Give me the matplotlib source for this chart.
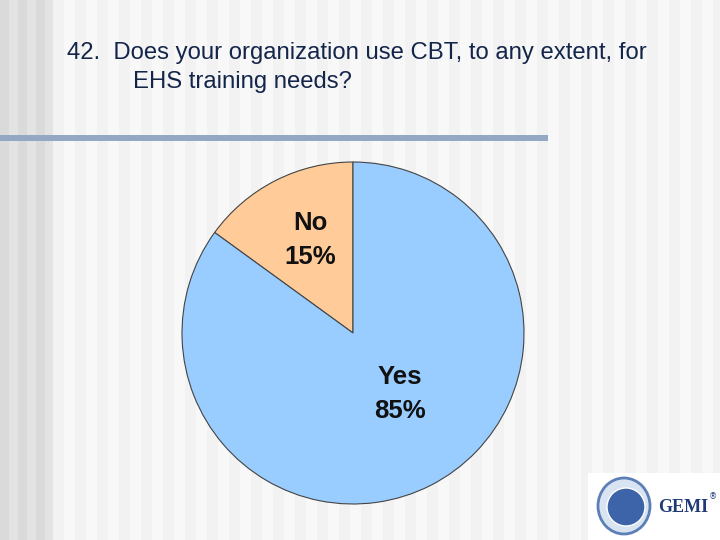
import matplotlib
matplotlib.use("Agg")
import matplotlib.pyplot as plt
from matplotlib.patches import Rectangle, Circle, Ellipse

categories = ["Yes", "No"]
values = [85, 15]
colors = ["#99ccff", "#ffcc99"]
title_line1 = "42.  Does your organization use CBT, to any extent, for"
title_line2 = "EHS training needs?"

W, H = 720, 540
fig = plt.figure(figsize=(7.2, 5.4), dpi=100)
fig.patch.set_facecolor("#f7f7f7")

bg = fig.add_axes([0, 0, 1, 1])
bg.set_xlim(0, W)
bg.set_ylim(H, 0)
bg.axis("off")
bg.set_zorder(0)

# striped background
x = 0
i = 0
while x < 53:
    c = "#dadada" if i % 2 == 0 else "#e3e3e3"
    bg.add_patch(Rectangle((x, 0), 9, H, color=c, lw=0))
    x += 9
    i += 1
x = 53
i = 0
while x < W:
    c = "#f2f2f2" if i % 2 == 0 else "#f8f8f8"
    bg.add_patch(Rectangle((x, 0), 11, H, color=c, lw=0))
    x += 11
    i += 1

# horizontal rule
bg.add_patch(Rectangle((0, 135), 548, 6, color="#93a9c3", lw=0))

# title
tc = "#14254a"
bg.text(67, 53, title_line1, fontsize=17.2, color=tc, family="Liberation Sans",
        va="center", ha="left")
bg.text(133, 82, title_line2, fontsize=17.2, color=tc, family="Liberation Sans",
        va="center", ha="left")

# logo
bg.add_patch(Rectangle((588, 473), 132, 67, color="white", lw=0))
bg.add_patch(Ellipse((624, 506), 52, 56, facecolor="#d9e4f2", edgecolor="#5c7fb8", lw=2))
bg.add_patch(Circle((626, 507), 19, facecolor="#3d64a8", edgecolor="white", lw=1))
bg.text(658, 507, "GEMI", fontsize=13, fontweight="bold", color="#1f3a75",
        family="Liberation Serif", va="center", ha="left")
bg.text(709, 497, "®", fontsize=6, color="#1f3a75", va="center", ha="left")

# pie
cx, cy, r = 353, 333, 171
ax = fig.add_axes([(cx - r) / W, 1 - (cy + r) / H, 2 * r / W, 2 * r / H])
ax.set_zorder(1)
ax.patch.set_alpha(0)
ax.pie(values[::-1], colors=colors[::-1], startangle=90, counterclock=True,
       wedgeprops=dict(edgecolor="#444444", linewidth=0.8))
ax.set_xlim(-1, 1)
ax.set_ylim(-1, 1)
ax.set_aspect("equal")
ax.axis("off")

lab_style = dict(fontsize=18.5, fontweight="bold", color="#111111",
                 family="Liberation Sans", ha="center", va="center",
                 linespacing=1.55, zorder=10)
fig.text(310 / W, 1 - 240 / H, f"{categories[1]}\n{values[1]}%", **lab_style)
fig.text(400 / W, 1 - 394 / H, f"{categories[0]}\n{values[0]}%", **lab_style)

fig.savefig("out.png", dpi=100)
